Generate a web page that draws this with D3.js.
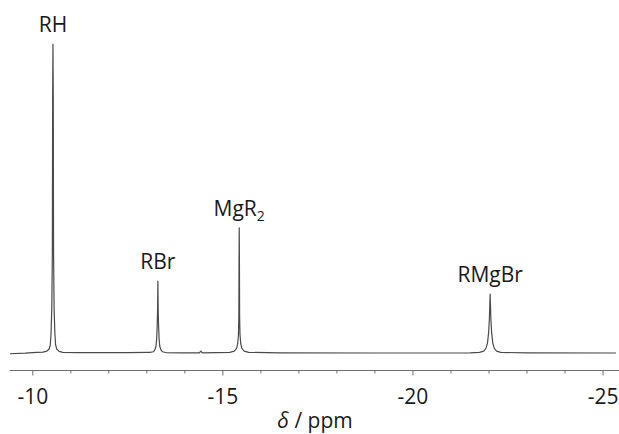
<!DOCTYPE html>
<html>
<head>
<meta charset="utf-8">
<script src="https://cdn.jsdelivr.net/npm/d3@7"></script>
<style>
  body { margin: 0; background: #fff; }
  text { font-family: "Open Sans", "Liberation Sans", sans-serif; fill: #1a1a1a; }
</style>
</head>
<body>
<svg id="plot" width="619" height="434"></svg>
<script>
// spectrum: [ppm, intensity] with RH = 100
const spectrum = [
  [-9.40, -0.25], [-9.80, -0.05], [-10.10, 0.2],
  // RH
  [-10.27, 0.3], [-10.37, 0.6], [-10.43, 1.3], [-10.46, 2.6], [-10.48, 6.5],
  [-10.50, 14.6], [-10.514, 32.4], [-10.522, 82.5], [-10.53, 100],
  [-10.538, 82.5], [-10.546, 32.4], [-10.56, 14.6], [-10.58, 6.5],
  [-10.60, 2.6], [-10.63, 1.3], [-10.69, 0.5], [-10.79, 0.2],
  [-11.20, 0.1], [-12.50, 0.1], [-13.00, 0.2],
  // RBr
  [-13.08, 0.2], [-13.17, 0.4], [-13.21, 1.0], [-13.24, 2.2], [-13.258, 4.5],
  [-13.272, 9], [-13.282, 14], [-13.29, 23.3], [-13.298, 14], [-13.308, 9],
  [-13.322, 4.5], [-13.34, 2.2], [-13.37, 1.0], [-13.41, 0.4], [-13.50, 0.15],
  [-13.90, 0.05], [-14.38, 0.05], [-14.42, 0.6], [-14.46, 0.05],
  // MgR2
  [-15.18, 0.2], [-15.30, 0.6], [-15.36, 1.5], [-15.39, 3], [-15.41, 6],
  [-15.42, 12], [-15.425, 30], [-15.43, 40.5], [-15.435, 30], [-15.44, 12],
  [-15.45, 6], [-15.47, 3], [-15.50, 1.5], [-15.56, 0.6], [-15.68, 0.2],
  [-16.50, 0.05], [-19.00, 0.0], [-21.50, 0.05],
  // RMgBr
  [-21.75, 0.2], [-21.86, 0.6], [-21.92, 1.5], [-21.96, 3.2], [-21.99, 6.5],
  [-22.01, 11], [-22.02, 15], [-22.03, 19.1], [-22.04, 15], [-22.05, 11],
  [-22.07, 6.5], [-22.10, 3.2], [-22.14, 1.5], [-22.20, 0.6], [-22.31, 0.2],
  [-23.00, 0.05], [-25.34, 0.0]
];

const peakNames = ['RH', 'RBr', 'MgR', 'RMgBr'];
const peakSubs = ['', '', '2', ''];
const peakPpm = [-10.53, -13.29, -15.43, -22.03];
const peakHeight = [100, 23.3, 40.5, 19.1];

const majorTicks = [-10, -15, -20, -25];
const minorTicks = [-11, -12, -13, -14, -16, -17, -18, -19, -21, -22, -23, -24];

const svg = d3.select('#plot');

const xS = d3.scaleLinear().domain([-9.4, -25.42]).range([10, 619]);
const yS = d3.scaleLinear().domain([0, 100]).range([353, 44]);

const line = d3.line()
  .x(d => xS(d[0]))
  .y(d => yS(d[1]));

svg.append('path')
  .datum(spectrum)
  .attr('d', line)
  .attr('fill', 'none')
  .attr('stroke', '#4a4a4a')
  .attr('stroke-width', 1.2)
  .attr('stroke-linejoin', 'round');

// peak labels
const lab = svg.append('g').selectAll('text')
  .data(peakNames)
  .join('text')
  .attr('x', (d, i) => xS(peakPpm[i]))
  .attr('y', (d, i) => yS(peakHeight[i]) - 12)
  .attr('text-anchor', 'middle')
  .style('font-size', '21px');
lab.append('tspan').text(d => d);
lab.filter((d, i) => peakSubs[i] !== '')
  .append('tspan')
  .attr('dy', 5)
  .style('font-size', '14px')
  .text(d => peakSubs[peakNames.indexOf(d)]);

// x axis
const axisY = 370.5;
const axis = svg.append('g').attr('transform', `translate(0,${axisY})`);
axis.append('line')
  .attr('x1', 10).attr('x2', 619)
  .attr('stroke', '#6e6e6e').attr('stroke-width', 1);

axis.selectAll('.minor').data(minorTicks)
  .join('line')
  .attr('class', 'minor')
  .attr('x1', d => xS(d)).attr('x2', d => xS(d))
  .attr('y1', 0).attr('y2', 3)
  .attr('stroke', '#6e6e6e');

axis.selectAll('.major').data(majorTicks)
  .join('line')
  .attr('class', 'major')
  .attr('x1', d => xS(d)).attr('x2', d => xS(d))
  .attr('y1', 0).attr('y2', 5)
  .attr('stroke', '#6e6e6e');

axis.selectAll('.tl').data(majorTicks)
  .join('text')
  .attr('class', 'tl')
  .attr('x', d => xS(d))
  .attr('y', 33)
  .attr('text-anchor', 'middle')
  .style('font-size', '21px')
  .text(d => d3.format('d')(d).replace('−', '-'));

const xl = svg.append('text')
  .attr('x', 315)
  .attr('y', 428)
  .attr('text-anchor', 'middle')
  .style('font-size', '21px');
xl.append('tspan').style('font-style', 'italic').text('δ');
xl.append('tspan').text(' / ppm');
</script>
</body>
</html>
